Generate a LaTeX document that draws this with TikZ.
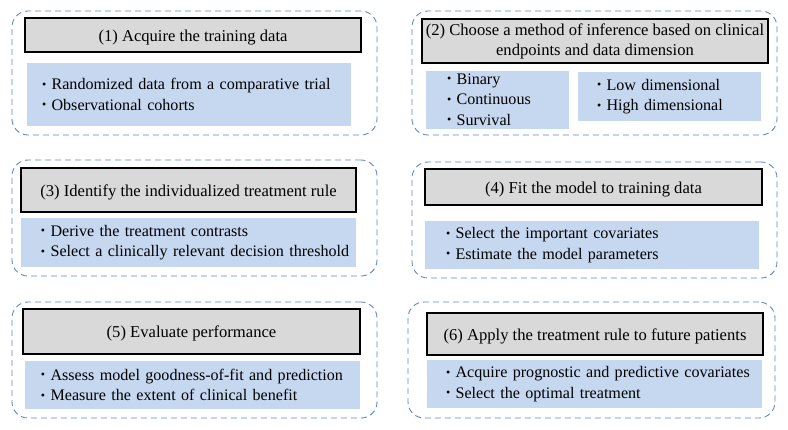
\documentclass[tikz,border=0pt]{standalone}
\usepackage{fontspec}
\setmainfont{Liberation Serif}
\definecolor{dashblue}{RGB}{91,139,201}
\definecolor{headgray}{RGB}{217,217,217}
\definecolor{bodyblue}{RGB}{198,215,240}
\newcommand{\dotitem}[1]{\mbox{\raisebox{1.6pt}{\fontsize{12}{12}\selectfont\textbullet}\ #1}}

\begin{document}
\begin{tikzpicture}[x=1pt,y=-1pt,
    panel/.style={draw=dashblue, line width=0.9pt, dash pattern=on 6pt off 4pt, rounded corners=16pt},
    head/.style={draw=black, fill=headgray, line width=1.1pt, align=center, inner sep=0pt,
        font=\fontsize{16.6}{20}\selectfont, execute at begin node={\rule{0pt}{16.5pt}}},
    body/.style={fill=bodyblue, align=left, inner ysep=0pt,
        font=\fontsize{16.1}{20.5}\selectfont}]
    \useasboundingbox (0,0) rectangle (788,429);

    %Shape: Rounded Rect (1)
    \node [panel, minimum width=365, minimum height=124] (frame1) at (194.5,73) {};
    % Text Node
    \node [head, minimum width=336, minimum height=34] (head1) at (193,35) {(1) Acquire the training data};
    % Text Node
    \node [body, minimum width=324, minimum height=63, inner xsep=15, text width=294] (body1) at (189,94.5)
        {\dotitem{Randomized data from a comparative trial}\\ \dotitem{Observational cohorts}};

    %Shape: Rounded Rect (2)
    \node [panel, minimum width=365, minimum height=124] (frame2) at (594.5,73) {};
    % Text Node
    \node [head, minimum width=346, minimum height=44] (head2) at (595,41)
        {(2) Choose a method of inference based on clinical\\ endpoints and data dimension};
    % Text Node
    \node [body, minimum width=143, minimum height=58, inner xsep=21, text width=101] (body2a) at (497.5,99.5)
        {\dotitem{Binary}\\ \dotitem{Continuous}\\ \dotitem{Survival}};
    % Text Node
    \node [body, minimum width=183, minimum height=49, inner xsep=19, text width=145] (body2b) at (669.5,96.5)
        {\dotitem{Low dimensional}\\ \dotitem{High dimensional}};

    %Shape: Rounded Rect (3)
    \node [panel, minimum width=365, minimum height=116] (frame3) at (194.5,218) {};
    % Text Node
    \node [head, minimum width=335, minimum height=44] (head3) at (188.5,190) {(3) Identify the individualized treatment rule};
    % Text Node
    \node [body, minimum width=335, minimum height=49, inner xsep=20, text width=295] (body3) at (188.5,242.5)
        {\dotitem{Derive the treatment contrasts}\\ \dotitem{Select a clinically relevant decision threshold}};

    %Shape: Rounded Rect (4)
    \node [panel, minimum width=365, minimum height=116] (frame4) at (594.5,220) {};
    % Text Node
    \node [head, minimum width=337, minimum height=36] (head4) at (593.5,187) {(4) Fit the model to training data};
    % Text Node
    \node [body, minimum width=334, minimum height=48, inner xsep=21, text width=292] (body4) at (592,245)
        {\dotitem{Select the important covariates}\\ \dotitem{Estimate the model parameters}};

    %Shape: Rounded Rect (5)
    \node [panel, minimum width=365, minimum height=116] (frame5) at (194.5,360) {};
    % Text Node
    \node [head, minimum width=337, minimum height=45] (head5) at (191.5,331.5) {(5) Evaluate performance};
    % Text Node
    \node [body, minimum width=335, minimum height=48, inner xsep=16, text width=303] (body5) at (192.5,385)
        {\dotitem{Assess model goodness-of-fit and prediction}\\ \dotitem{Measure the extent of clinical benefit}};

    %Shape: Rounded Rect (6)
    \node [panel, minimum width=367, minimum height=116] (frame6) at (591.5,360) {};
    % Text Node
    \node [head, minimum width=336, minimum height=42] (head6) at (595,334) {(6) Apply the treatment rule to future patients};
    % Text Node
    \node [body, minimum width=335, minimum height=48, inner xsep=19, text width=297] (body6) at (594.5,384)
        {\dotitem{Acquire prognostic and predictive covariates}\\ \dotitem{Select the optimal treatment}};
\end{tikzpicture}
\end{document}
